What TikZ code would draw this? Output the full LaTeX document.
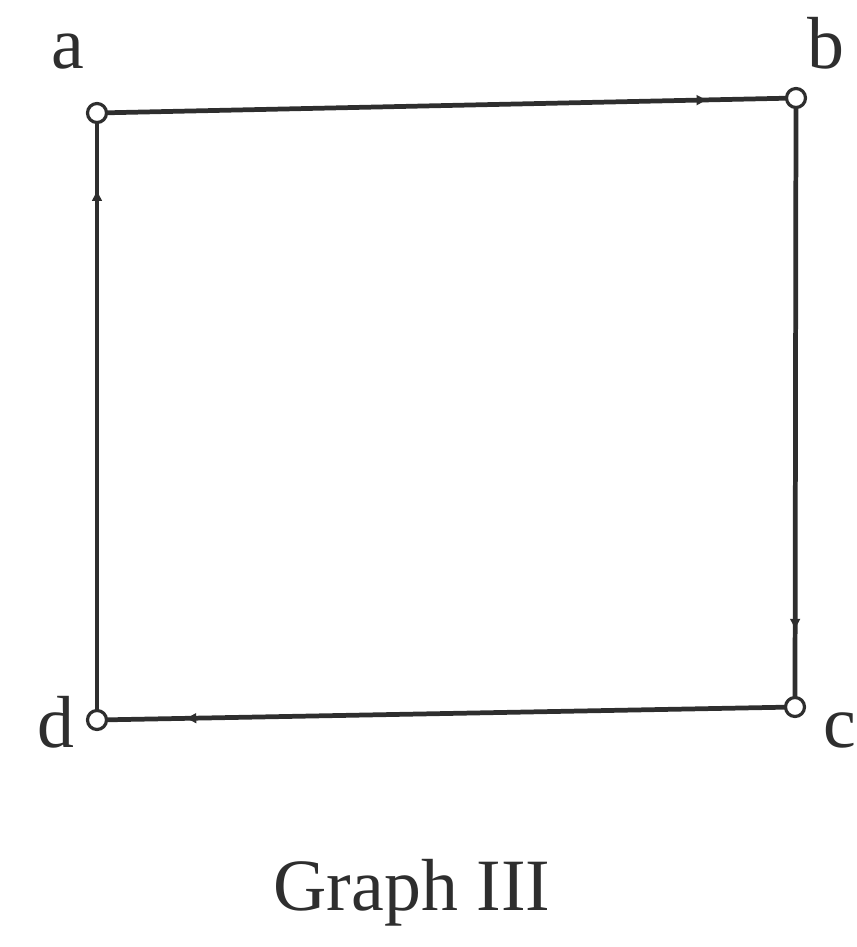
\documentclass[tikz,border=0pt]{standalone}
\usepackage{fontspec}
\setmainfont{Liberation Serif}
\usepackage{xcolor}
\definecolor{inkDark}{HTML}{2E2E2E}
\usetikzlibrary{arrows.meta,decorations.markings}
\tikzset{
  vertex/.style={circle, draw=inkDark, line width=1.8pt, fill=white, inner sep=0pt, minimum width=0.38cm, minimum height=0.3cm},
  vlabel/.style={inner sep=0pt, text=inkDark, font=\fontsize{42}{50}\selectfont},
  edge/.style={draw=inkDark, line width=2.7pt, postaction={decorate},
    decoration={markings, mark=at position 0.875 with {\arrow{Latex[length=2.4mm,width=2.2mm]}}}}
}

\begin{document}
\begin{tikzpicture}[x=0.02cm, y=-0.02cm]
  \useasboundingbox (0,0) rectangle (857,947);
  \coordinate (a) at (97,113);
  \coordinate (b) at (796,98);
  \coordinate (c) at (795,707);
  \coordinate (d) at (97,720);
  \draw[edge] (a) -- (b);
  \draw[edge] (b) -- (c);
  \draw[edge] (c) -- (d);
  \draw[edge] (d) -- (a);
  \node[vertex] (A) at (a) {};
  \node[vertex] (B) at (b) {};
  \node[vertex] (C) at (c) {};
  \node[vertex] (D) at (d) {};
  \node[vlabel] (la) at (68,52) {a};
  \node[vlabel] (lb) at (826,43) {b};
  \node[vlabel] (lc) at (840,730) {c};
  \node[vlabel] (ld) at (56,722) {d};
  \node[vlabel] (title) at (412,893) {Graph III};
\end{tikzpicture}
\end{document}
